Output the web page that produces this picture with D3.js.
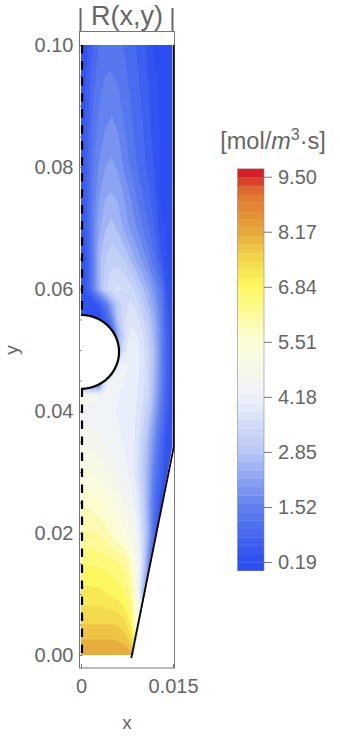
<!DOCTYPE html>
<html><head><meta charset="utf-8">
<style>html,body{margin:0;padding:0;background:#fff}svg{display:block}text{font-family:"Liberation Sans",Arial,sans-serif;fill:#666}</style>
<script src="https://cdn.jsdelivr.net/npm/d3@7"></script></head><body>
<svg id="c" width="340" height="736"></svg>
<script>
const xGrid=[0,.001,.002,.003,.004,.005,.006,.007,.008,.009,.01,.011,.012,.013,.014,.015];
const yGrid=[0,.005,.01,.015,.02,.025,.03,.035,.04,.0425,.045,.0475,.05,.0525,.055,.0575,.06,.065,.07,.075,.08,.085,.09,.095,.1];
const rRows=[
[8.25,8.25,8.25,8.25,8.25,8.25,8.22,8.18,8.1,7.5,6,4,2.5,1.2,.5,.2],
[7.63,7.63,7.63,7.63,7.63,7.63,7.6,7.45,7,5.5,4.5,3,1.8,1,.4,.2],
[7.13,7.13,7.12,7.1,7.02,6.95,6.85,6.72,6.35,5.2,2.8,1.5,.7,.3,.2,.15],
[6.67,6.67,6.66,6.65,6.58,6.5,6.4,6.25,5.85,4.9,3.6,1.8,.7,.2,.2,.15],
[6.1,6.1,6.1,6.05,5.9,5.7,5.5,5.25,4.95,4.5,3.5,2.4,.9,.2,.2,.15],
[5.68,5.68,5.62,5.52,5.4,5.2,5,4.8,4.5,4.05,3.3,2.25,1.1,.35,.2,.15],
[5.2,5.18,5.12,5.02,4.9,4.72,4.55,4.35,4.15,3.8,3.1,2.35,1.35,.75,.22,.15],
[4.75,4.72,4.68,4.62,4.5,4.4,4.28,4.18,4.05,3.85,3.2,2.55,1.75,1,.35,.15],
[4.4,4.4,4.4,4.35,4.3,4.25,4.2,4.1,4.03,3.9,3.55,3.05,2.25,1.4,.6,.15],
[4.7,4.7,4.65,4.55,4.45,4.35,4.25,4.1,4.05,3.95,3.7,3.25,2.45,1.55,.7,.15],
[.5,.5,.5,.5,3.5,4.6,4.5,4.25,4.1,4,3.75,3.35,2.55,1.65,.75,.15],
[.3,.3,.3,.3,.3,.8,4,4.35,4.15,4.05,3.8,3.35,2.6,1.7,.8,.15],
[.3,.3,.3,.3,.3,.3,2.5,3.7,4.15,4.05,3.8,3.3,2.6,1.7,.8,.15],
[.3,.3,.3,.3,.3,.4,2.3,3.4,3.98,3.95,3.65,3.15,2.5,1.65,.75,.15],
[.2,.2,.2,.2,.7,1.6,2.9,3.55,3.85,3.75,3.4,2.95,2.35,1.6,.65,.15],
[.2,.2,.3,.6,1.3,2.3,3.05,3.45,3.65,3.5,3.1,2.65,2.1,1.5,.55,.15],
[.25,.6,1.5,2.5,3.25,3.55,3.65,3.6,3.45,3.15,2.75,2.35,1.85,1.35,.4,.15],
[.25,.6,1.5,2.6,3,3.18,3.15,2.95,2.65,2.3,1.98,1.6,1.15,.6,.15,.15],
[.28,.75,1.6,2.3,2.65,2.78,2.6,2.3,2,1.75,1.45,1.15,.8,.3,.15,.15],
[.3,.8,1.5,2.05,2.35,2.42,2.3,2.05,1.75,1.45,1.15,.9,.6,.15,.15,.15],
[.3,.8,1.4,1.8,2.05,2.12,2,1.7,1.42,1.15,.95,.72,.47,.15,.15,.15],
[.3,.7,1.25,1.6,1.8,1.9,1.78,1.5,1.25,1.05,.87,.62,.38,.15,.15,.15],
[.3,.6,1.12,1.45,1.6,1.65,1.55,1.35,1.15,.95,.78,.55,.3,.15,.15,.15],
[.28,.55,1,1.3,1.43,1.45,1.38,1.2,1.05,.88,.7,.48,.22,.15,.15,.15],
[.25,.45,.85,1.15,1.27,1.3,1.22,1.1,.95,.8,.6,.4,.15,.15,.15,.15]];
const colorValues=[.19,1.52,2.85,4.18,5.51,6.84,7.5,8.17,9,9.3,9.5];
const colorStops=["#2c4df0","#6080ee","#b6c6f6","#eef2fb","#fdfdd8","#fdf860","#f3d84b","#e6a93c","#e07a30","#dc5a30","#d42028"];
const legendTicks=[.19,1.52,2.85,4.18,5.51,6.84,8.17,9.5];
const bandCount=48, bandLow=-.02, bandHigh=9.69;
const plotStep=.31, plotLow=-.12, plotBands=33;
const yTicks=[0,.02,.04,.06,.08,.1];
const yMinor=d3.range(0,21).map(i=>i*.005);
const xTicks=[0,.015];
const wallX=[.0082,.0151,.0151], wallY=[-.0005,.034,.1];
const circleCy=.0497, circleRx=.0062, circleRy=.00605;
const frame={l:79.5,r:174.5,t:31.5,b:668};

const svg=d3.select("#c");
const x=d3.scaleLinear().domain([0,.015]).range([81,173]);
const y=d3.scaleLinear().domain([0,.1]).range([655,45]);
const color=d3.scaleLinear().domain(colorValues).range(colorStops).interpolate(d3.interpolateRgb).clamp(true);
const band=(bandHigh-bandLow)/bandCount;
const thresholds=d3.range(bandCount).map(i=>bandLow+i*band);
const plotThresholds=d3.range(plotBands).map(i=>plotLow+i*plotStep);

const xOfI=d3.scaleLinear().domain(xGrid.map((_,i)=>i)).range(xGrid);
const yOfI=d3.scaleLinear().domain(yGrid.map((_,i)=>i)).range(yGrid);
const n=xGrid.length,m=yGrid.length;
const flat=rRows.flat();
const contours=d3.contours().size([n,m]).thresholds(plotThresholds)(flat);
const proj=d3.geoTransform({point(a,b){this.stream.point(x(xOfI(a-.5)),y(yOfI(b-.5)));}});
const geo=d3.geoPath(proj);

const circPts=d3.range(-90,90.01,3).map(a=>[circleRx*Math.cos(a*Math.PI/180),circleCy+circleRy*Math.sin(a*Math.PI/180)]);
const circLine=d3.line().x(d=>x(d[0])).y(d=>y(d[1]));
const domainPts=[[0,0],[.0085,0],[.01485,.034],[.01485,.1],[0,.1]];
const defs=svg.append("defs");
defs.append("clipPath").attr("id","dom").append("path").attr("clip-rule","evenodd")
  .attr("d",circLine(domainPts)+"Z"+circLine(circPts)+"Z");

svg.append("g").attr("clip-path","url(#dom)").selectAll("path").data(contours).join("path")
  .attr("d",geo).attr("fill",d=>color(d.value+plotStep/2)).attr("stroke",d=>color(d.value+plotStep/2)).attr("stroke-width",.3);

// frame and ticks
const gray="#777";
svg.append("rect").attr("x",frame.l).attr("y",frame.t).attr("width",frame.r-frame.l).attr("height",frame.b-frame.t).attr("fill","none").attr("stroke",gray).attr("stroke-width",1);
const yAxis=svg.append("g").attr("transform",`translate(${frame.l},0)`).call(d3.axisLeft(y).tickValues(yTicks).tickFormat(d3.format(".2f")).tickSizeInner(-3).tickSizeOuter(0).tickPadding(6));
yAxis.select(".domain").remove();
yAxis.selectAll("line").attr("stroke",gray);
yAxis.selectAll("text").attr("font-size",20).attr("fill","#666").attr("font-family","Liberation Sans");
const yMin=svg.append("g").attr("transform",`translate(${frame.l},0)`).call(d3.axisLeft(y).tickValues(yMinor).tickFormat("").tickSizeInner(-2).tickSizeOuter(0));
yMin.select(".domain").remove();yMin.selectAll("line").attr("stroke",gray);
const xAxis=svg.append("g").attr("transform",`translate(0,${frame.b})`).call(d3.axisBottom(x).tickValues(xTicks).tickFormat(d=>d===0?"0":"0.015").tickSizeInner(-4).tickSizeOuter(0).tickPadding(11));
xAxis.select(".domain").remove();
xAxis.selectAll("line").attr("stroke",gray);
xAxis.selectAll("text").attr("font-size",20).attr("fill","#666").attr("font-family","Liberation Sans");

// boundaries
const wallLine=d3.line().x((d,i)=>x(wallX[i])).y((d,i)=>y(wallY[i]));
svg.append("path").attr("d",wallLine(wallX)).attr("fill","none").attr("stroke","#000").attr("stroke-width",1.8);
svg.append("path").attr("d",circLine(circPts)).attr("fill","none").attr("stroke","#000").attr("stroke-width",2.2);
const lowerDash=[[0,0],[0,circleCy-circleRy]];
const upperDash=[[0,.1],[0,circleCy+circleRy]];
svg.append("path").attr("d",circLine(lowerDash)).attr("transform","translate(1,0)").attr("fill","none").attr("stroke","#000").attr("stroke-width",2.2).attr("stroke-dasharray","8.4 7.6").attr("stroke-dashoffset",14);
svg.append("path").attr("d",circLine(upperDash)).attr("transform","translate(1,0)").attr("fill","none").attr("stroke","#000").attr("stroke-width",2.2).attr("stroke-dasharray","8.4 7.6");

// titles
svg.append("text").attr("x",127).attr("y",25).attr("text-anchor","middle").attr("font-size",27).text("R(x,y)");
svg.append("rect").attr("x",79.5).attr("y",8).attr("width",2).attr("height",23).attr("fill","#666");
svg.append("rect").attr("x",171.5).attr("y",8).attr("width",2).attr("height",23).attr("fill","#666");
svg.append("text").attr("x",127).attr("y",729).attr("text-anchor","middle").attr("font-size",19).text("x");
svg.append("text").attr("transform","translate(18,350) rotate(-90)").attr("text-anchor","middle").attr("font-size",19).text("y");

// legend
const lg=d3.scaleLinear().domain([.19,9.5]).range([562,176.7]);
const lx0=237.5,lx1=264;
svg.append("g").selectAll("rect").data(thresholds).join("rect")
  .attr("x",lx0).attr("width",lx1-lx0).attr("y",d=>lg(d+band)).attr("height",d=>lg(d)-lg(d+band)+.3)
  .attr("fill",d=>color(d+band/2));
svg.append("rect").attr("x",lx0).attr("y",lg(bandHigh)).attr("width",lx1-lx0).attr("height",lg(bandLow)-lg(bandHigh)).attr("fill","none").attr("stroke","#888").attr("stroke-opacity",.7).attr("stroke-width",.8);
const lAxis=svg.append("g").attr("transform",`translate(${lx1},0)`).call(d3.axisRight(lg).tickValues(legendTicks).tickFormat(d3.format(".2f")).tickSizeInner(8).tickSizeOuter(0).tickPadding(6));
lAxis.select(".domain").remove();
lAxis.selectAll("line").attr("stroke",gray);
lAxis.selectAll("text").attr("font-size",20).attr("fill","#666").attr("font-family","Liberation Sans");
const lt=svg.append("text").attr("x",273).attr("y",149).attr("text-anchor","middle").attr("font-size",23.5);
lt.append("tspan").text("[mol/");
lt.append("tspan").attr("font-style","italic").text("m");
lt.append("tspan").attr("dy",-9).attr("font-size",16).text("3");
lt.append("tspan").attr("dy",9).text("·s]");
</script></body></html>
